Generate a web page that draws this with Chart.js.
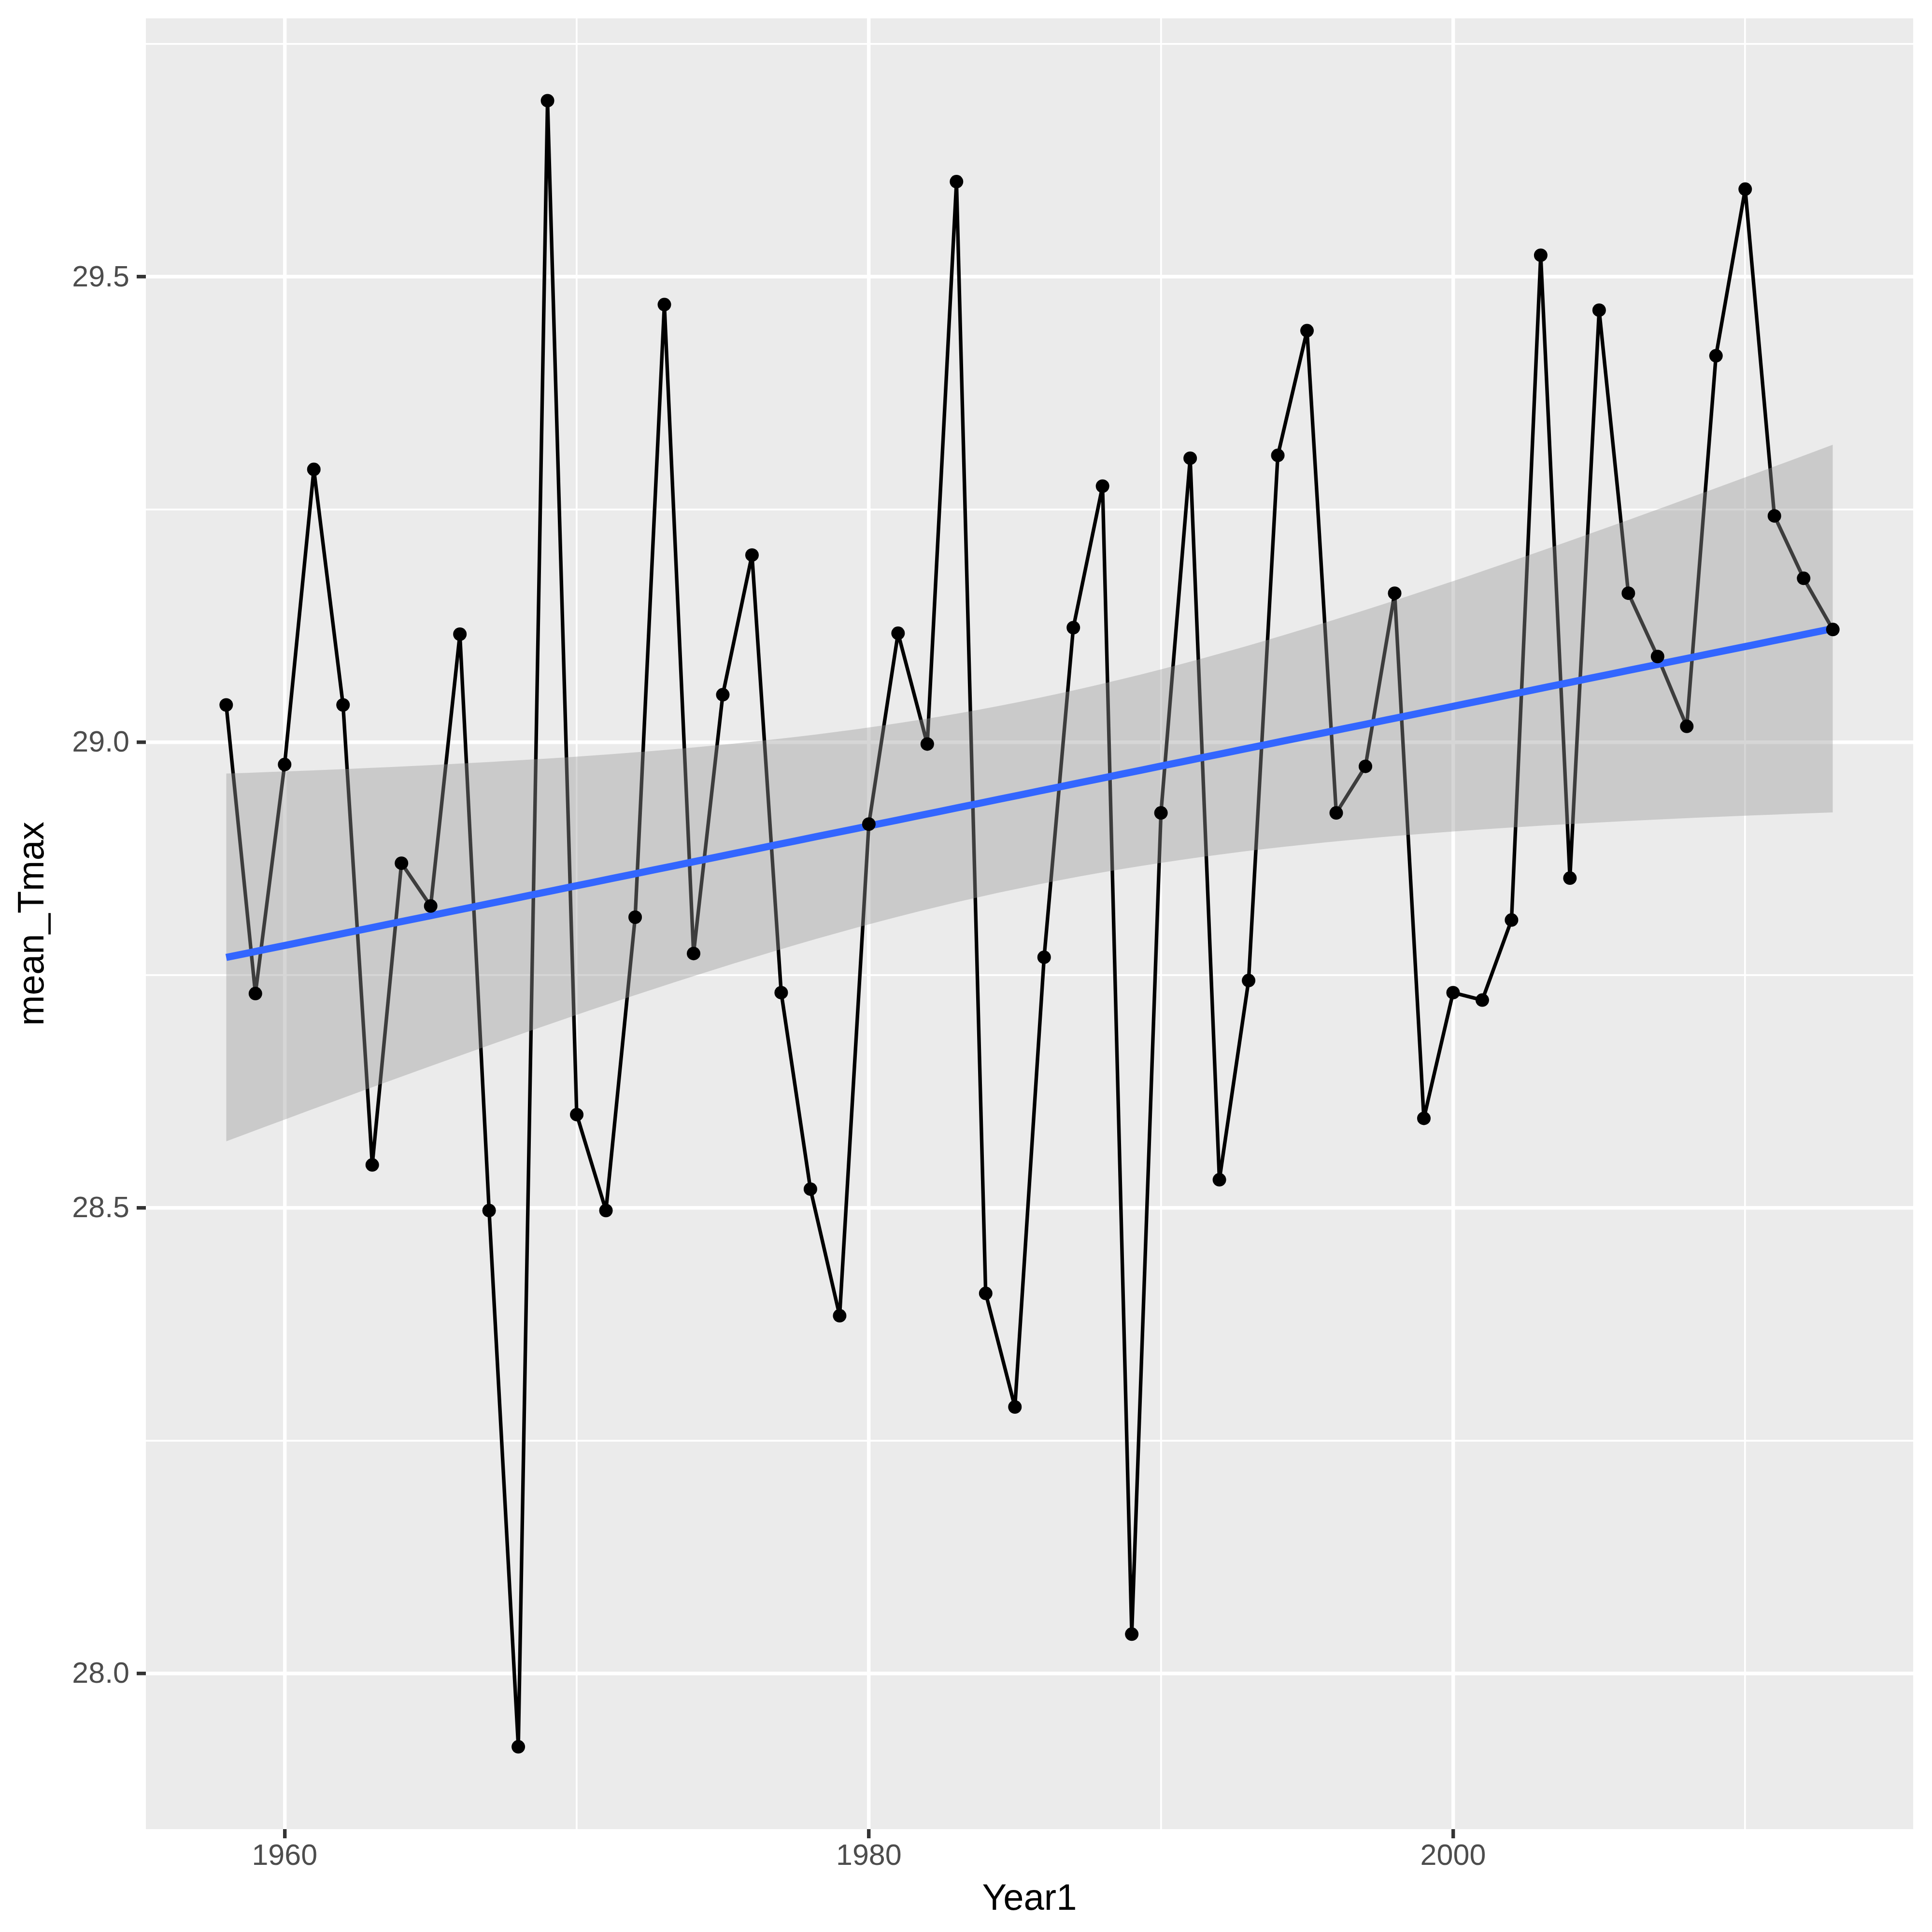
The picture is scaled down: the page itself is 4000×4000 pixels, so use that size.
<!DOCTYPE html>
<html>
<head>
<meta charset="utf-8">
<script src="https://cdn.jsdelivr.net/npm/chart.js@4.4.1/dist/chart.umd.min.js"></script>
<style>
html,body{margin:0;padding:0;background:#ffffff;}
canvas{display:block;}
</style>
</head>
<body>
<canvas id="c" width="4000" height="4000" style="width:4000px;height:4000px"></canvas>
<script>
// ---------------- data ----------------
const years = [1958,1959,1960,1961,1962,1963,1964,1965,1966,1967,
               1968,1969,1970,1971,1972,1973,1974,1975,1976,1977,
               1978,1979,1980,1981,1982,1983,1984,1985,1986,1987,
               1988,1989,1990,1991,1992,1993,1994,1995,1996,1997,
               1998,1999,2000,2001,2002,2003,2004,2005,2006,2007,
               2008,2009,2010,2011,2012,2013];
const meanTmax = [29.040,28.730,28.976,29.293,29.040,28.546,28.870,28.824,29.116,28.497,
                  27.921,29.689,28.600,28.497,28.812,29.470,28.773,29.051,29.201,28.731,
                  28.520,28.384,28.912,29.117,28.998,29.602,28.408,28.286,28.769,29.123,
                  29.275,28.042,28.924,29.305,28.530,28.744,29.308,29.442,28.924,28.974,
                  29.160,28.596,28.731,28.723,28.809,29.523,28.854,29.464,29.160,29.092,
                  29.017,29.415,29.594,29.243,29.176,29.121];
const yMajorTicks = [28.0, 28.5, 29.0, 29.5];
const yMinorTicks = [28.25, 28.75, 29.25, 29.75];
const xMajorTicks = [1960, 1980, 2000];
const xMinorTicks = [1970, 1990, 2010];
const xTitle = 'Year1';
const yTitle = 'mean_Tmax';

// ---------------- linear fit (geom_smooth method = "lm") ----------------
const n = years.length;
const xbar = years.reduce((a, b) => a + b, 0) / n;
const ybar = meanTmax.reduce((a, b) => a + b, 0) / n;
let sxx = 0, sxy = 0;
for (let i = 0; i < n; i++) { sxx += (years[i] - xbar) ** 2; sxy += (years[i] - xbar) * (meanTmax[i] - ybar); }
const slope = sxy / sxx;
const intercept = ybar - slope * xbar;
let sse = 0;
for (let i = 0; i < n; i++) { const r = meanTmax[i] - (intercept + slope * years[i]); sse += r * r; }
const sigma = Math.sqrt(sse / (n - 2));
const tCrit = 2.004879; // qt(0.975, 54)
const xMin = Math.min(...years), xMax = Math.max(...years);
const fitX = [];
for (let k = 0; k < 80; k++) fitX.push(xMin + (xMax - xMin) * k / 79);
const fitY = fitX.map(x => intercept + slope * x);
const fitSe = fitX.map(x => sigma * Math.sqrt(1 / n + (x - xbar) ** 2 / sxx));
const fitLower = fitX.map((x, k) => ({x, y: fitY[k] - tCrit * fitSe[k]}));
const fitUpper = fitX.map((x, k) => ({x, y: fitY[k] + tCrit * fitSe[k]}));
const fitLine = fitX.map((x, k) => ({x, y: fitY[k]}));

// axis limits with ggplot's 5% expansion
const yMinD = Math.min(...meanTmax), yMaxD = Math.max(...meanTmax);
const yPad = (yMaxD - yMinD) * 0.05, xPad = (xMax - xMin) * 0.05;

const series = years.map((x, i) => ({x, y: meanTmax[i]}));

// ---------------- styles ----------------
const FONT = "'Liberation Sans', Arial, sans-serif";
const MAJOR_W = 7.4, MINOR_W = 3.7;

const panelBg = {
  id: 'panelBg',
  beforeDraw(chart) {
    const {ctx, chartArea: a} = chart;
    ctx.save();
    ctx.fillStyle = '#EBEBEB';
    ctx.fillRect(a.left, a.top, a.right - a.left, a.bottom - a.top);
    ctx.restore();
  }
};

const isMaj = (list, v) => list.some(t => Math.abs(t - v) < 1e-9);

new Chart(document.getElementById('c'), {
  type: 'line',
  data: {
    datasets: [
      { data: series, borderColor: '#000000', borderWidth: MAJOR_W, pointRadius: 0,
        tension: 0, fill: false, borderJoinStyle: 'round', order: 4 },
      { data: fitLower, borderWidth: 0, borderColor: 'rgba(0,0,0,0)', pointRadius: 0,
        fill: false, order: 3 },
      { data: fitUpper, borderWidth: 0, borderColor: 'rgba(0,0,0,0)', pointRadius: 0,
        fill: '-1', backgroundColor: 'rgba(153,153,153,0.4)', order: 2 },
      { data: fitLine, borderColor: '#3366FF', borderWidth: 14.8, pointRadius: 0,
        fill: false, order: 1 },
      { data: series, showLine: false, pointRadius: 14, pointBorderWidth: 0,
        pointBackgroundColor: '#000000', pointBorderColor: '#000000', order: 0 }
    ]
  },
  options: {
    responsive: false,
    devicePixelRatio: 1,
    animation: false,
    events: [],
    layout: { padding: { top: 38, right: 39, left: 0, bottom: 0 } },
    plugins: { legend: { display: false }, tooltip: { enabled: false } },
    scales: {
      x: {
        type: 'linear',
        min: xMin - xPad,
        max: xMax + xPad,
        afterFit(s) { s.height = 213; s.paddingLeft = 0; s.paddingRight = 0; },
        afterBuildTicks(s) { s.ticks = [...xMajorTicks, ...xMinorTicks].sort((a, b) => a - b).map(v => ({value: v})); },
        border: { display: false },
        grid: {
          color: '#FFFFFF',
          lineWidth: c => isMaj(xMajorTicks, c.tick.value) ? MAJOR_W : MINOR_W,
          drawTicks: true,
          tickLength: 19,
          tickWidth: MAJOR_W,
          tickColor: c => isMaj(xMajorTicks, c.tick.value) ? '#333333' : 'rgba(0,0,0,0)'
        },
        ticks: {
          autoSkip: false, maxRotation: 0, minRotation: 0,
          padding: 2,
          color: '#4D4D4D',
          font: { family: FONT, size: 61 },
          callback: v => isMaj(xMajorTicks, v) ? String(v) : ''
        },
        title: {
          display: true, text: xTitle, color: '#000000',
          font: { family: FONT, size: 76 },
          padding: { top: 0, bottom: 21 }
        }
      },
      y: {
        type: 'linear',
        min: yMinD - yPad,
        max: yMaxD + yPad,
        afterFit(s) { s.width = 302; s.paddingTop = 0; s.paddingBottom = 0; },
        afterBuildTicks(s) { s.ticks = [...yMajorTicks, ...yMinorTicks].sort((a, b) => a - b).map(v => ({value: v})); },
        border: { display: false },
        grid: {
          color: '#FFFFFF',
          lineWidth: c => isMaj(yMajorTicks, c.tick.value) ? MAJOR_W : MINOR_W,
          drawTicks: true,
          tickLength: 19,
          tickWidth: MAJOR_W,
          tickColor: c => isMaj(yMajorTicks, c.tick.value) ? '#333333' : 'rgba(0,0,0,0)'
        },
        ticks: {
          autoSkip: false,
          padding: 15,
          labelOffset: 3,
          color: '#4D4D4D',
          font: { family: FONT, size: 61 },
          callback: v => isMaj(yMajorTicks, v) ? v.toFixed(1) : ''
        },
        title: {
          display: true, text: yTitle, color: '#000000',
          font: { family: FONT, size: 76 },
          padding: { top: 23, bottom: 0 }
        }
      }
    }
  },
  plugins: [panelBg]
});
</script>
</body>
</html>
